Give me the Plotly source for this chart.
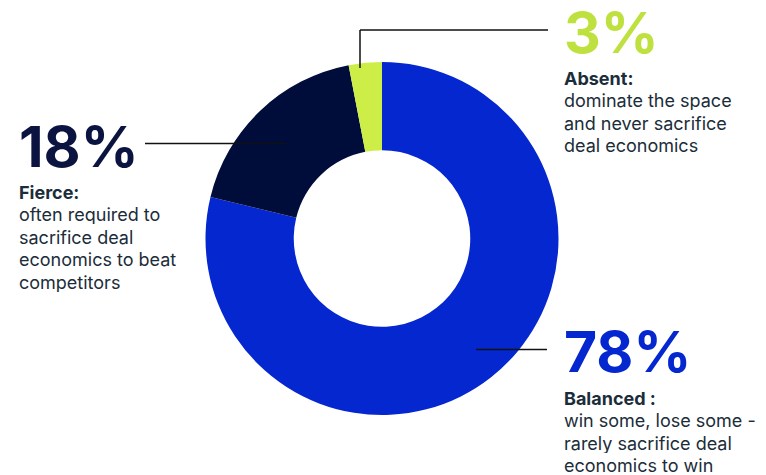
import plotly.graph_objects as go

# Competitive intensity breakdown
segments = ["Balanced", "Fierce", "Absent"]
shares = [78, 18, 3]
slice_colors = ["#0527cf", "#000d3b", "#cdee47"]
pct_colors = ["#0527cf", "#0b1440", "#bfe13f"]
headings = ["Balanced :", "Fierce:", "Absent:"]
descriptions = [
    ["win some, lose some -", "rarely sacrifice deal", "economics to win"],
    ["often required to", "sacrifice deal", "economics to beat", "competitors"],
    ["dominate the space", "and never sacrifice", "deal economics"],
]

W, H = 766, 475
LINE_PITCH = 22.5
TEXT_COLOR = "#1b2d3a"


def px(x):
    return x / W


def py(y):
    return 1 - y / H


fig = go.Figure(
    go.Pie(
        labels=segments,
        values=shares,
        hole=0.5,
        sort=False,
        direction="clockwise",
        rotation=0,
        marker=dict(colors=slice_colors, line=dict(width=0)),
        textinfo="none",
        hoverinfo="label+value",
        domain=dict(x=[px(205), px(559)], y=[py(415), py(62)]),
        showlegend=False,
    )
)

# label block layout: left edge, centre of the percentage, baseline of the heading
blocks = {
    "Balanced": (562, 351, 403),
    "Fierce": (17, 146, 197),
    "Absent": (562, 32, 83),
}

annotations = []
for seg, val, pc, head, desc in zip(segments, shares, pct_colors, headings, descriptions):
    x0, ymid, base = blocks[seg]
    annotations.append(dict(
        x=px(x0), y=py(ymid), xref="paper", yref="paper",
        xanchor="left", yanchor="middle", showarrow=False,
        height=56, valign="middle",
        text=f"<b>{val}%</b>",
        font=dict(family="Inter", size=57, color=pc),
    ))
    lines = [f"<b>{head}</b>"] + desc
    for i, line in enumerate(lines):
        annotations.append(dict(
            x=px(x0), y=py(base + i * LINE_PITCH - 5.5), xref="paper", yref="paper",
            xanchor="left", yanchor="middle", showarrow=False, align="left",
            height=20, valign="middle",
            text=line,
            font=dict(family="Inter", size=18, color=TEXT_COLOR),
        ))

line_style = dict(color="#111111", width=1.5)
shapes = [
    # Absent leader (elbow)
    dict(type="line", xref="paper", yref="paper",
         x0=px(360), y0=py(68), x1=px(360), y1=py(30), line=line_style),
    dict(type="line", xref="paper", yref="paper",
         x0=px(360), y0=py(30), x1=px(548), y1=py(30), line=line_style),
    # Fierce leader
    dict(type="line", xref="paper", yref="paper",
         x0=px(145), y0=py(143.5), x1=px(286), y1=py(143.5), line=line_style),
    # Balanced leader
    dict(type="line", xref="paper", yref="paper",
         x0=px(476), y0=py(349.5), x1=px(547), y1=py(349.5), line=line_style),
]

fig.update_layout(
    width=W, height=H,
    margin=dict(l=0, r=0, t=0, b=0),
    paper_bgcolor="white",
    plot_bgcolor="white",
    annotations=annotations,
    shapes=shapes,
)

fig.write_html("out.html")
